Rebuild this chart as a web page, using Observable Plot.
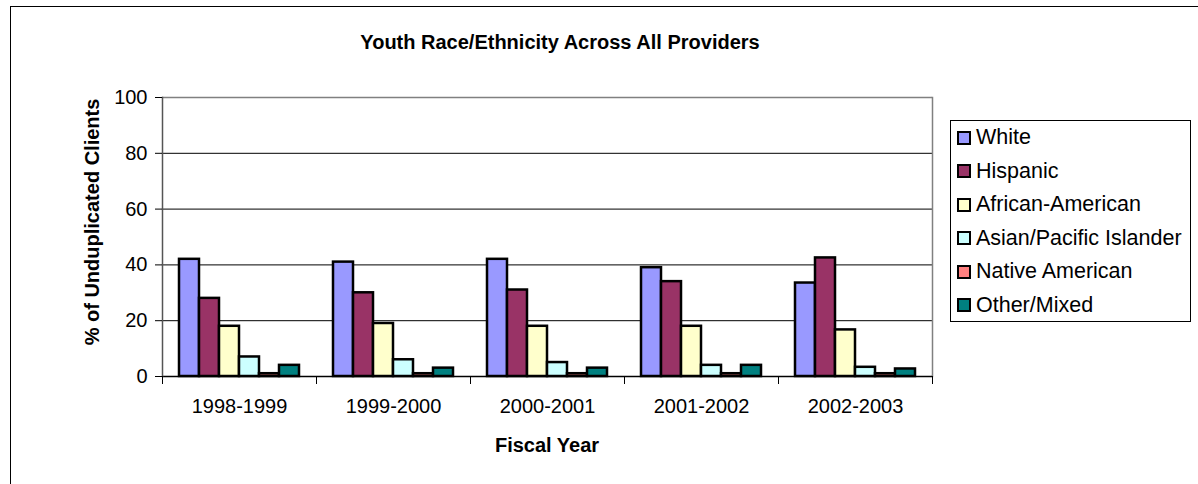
<!DOCTYPE html>
<html><head><meta charset="utf-8">
<script src="https://cdn.jsdelivr.net/npm/d3@7"></script>
<script src="https://cdn.jsdelivr.net/npm/@observablehq/plot@0.6"></script>
<style>
body{margin:0;background:#fff;font-family:"Liberation Sans",Arial,sans-serif;color:#000;}
#wrap{position:relative;width:1198px;height:484px;overflow:hidden;}
#outer{position:absolute;left:10px;top:6px;width:1400px;height:700px;border:1.5px solid #000;}
#chart{position:absolute;left:0;top:0;}
.title{position:absolute;left:0;width:1120px;top:31px;text-align:center;font-weight:bold;font-size:20px;line-height:22px;}
.ytitle{position:absolute;left:92px;top:222px;transform:translate(-50%,-50%) rotate(-90deg);font-weight:bold;font-size:20px;white-space:nowrap;line-height:22px;}
.xtitle{position:absolute;left:547px;top:445px;transform:translate(-50%,-50%);font-weight:bold;font-size:20px;white-space:nowrap;line-height:22px;}
#legend{position:absolute;left:950px;top:120px;width:241px;height:202px;border:1.5px solid #000;background:#fff;box-sizing:border-box;}
.item{height:33.5px;display:flex;align-items:center;font-size:21.5px;white-space:nowrap;}
.sw{width:10px;height:10px;border:2px solid #000;margin-left:6px;margin-right:5px;flex:none;}
</style></head>
<body>
<div id="wrap">
  <div id="outer"></div>
  <div id="chart"></div>
  <div class="title">Youth Race/Ethnicity Across All Providers</div>
  <div class="ytitle">% of Unduplicated Clients</div>
  <div class="xtitle">Fiscal Year</div>
  <div id="legend"></div>
</div>
<script>
const years = ["1998-1999", "1999-2000", "2000-2001", "2001-2002", "2002-2003"];
const groups = ["White", "Hispanic", "African-American", "Asian/Pacific Islander", "Native American", "Other/Mixed"];
const white = [42, 41, 42, 39, 33.5];
const hispanic = [28, 30, 31, 34, 42.5];
const africanAmerican = [18, 19, 18, 18, 16.7];
const asianPacific = [7, 6, 5, 4, 3.3];
const nativeAmerican = [1, 1, 1, 1, 1];
const otherMixed = [4, 3, 3, 4, 2.7];
const colors = ["#9999FF", "#993366", "#FFFFCC", "#CCFFFF", "#FF8080", "#008080"];
const yTicks = [0, 20, 40, 60, 80, 100];

const series = [white, hispanic, africanAmerican, asianPacific, nativeAmerican, otherMixed];
const data = [];
years.forEach((yr, i) => {
  groups.forEach((g, j) => data.push({year: yr, group: g, value: series[j][i]}));
});

const innerH = 484 - 97 - 108;
const chart = Plot.plot({
  width: 1198, height: 484,
  marginLeft: 162, marginRight: 266, marginTop: 97, marginBottom: 108,
  style: {fontFamily: "Liberation Sans, Arial, sans-serif", fontSize: "20px", background: "transparent", color: "#000"},
  fx: {domain: years, padding: 0, label: null},
  x: {domain: groups, paddingInner: 0, paddingOuter: 0.72, axis: null},
  y: {domain: [0, 100], label: null},
  color: {domain: groups, range: colors},
  marks: [
    Plot.ruleY(yTicks.filter(d => d > 0 && d < 100), {stroke: "#000", strokeWidth: 1}),
    Plot.ruleY([100], {stroke: "#808080", strokeWidth: 1.5}),
    Plot.frame({anchor: "right", facetAnchor: "right", stroke: "#808080", strokeWidth: 1.5}),
    Plot.barY(data, {fx: "year", x: "group", y: "value", fill: "group", stroke: "#000", strokeWidth: 2.5}),
    Plot.ruleY([0], {stroke: "#000", strokeWidth: 1.5}),
    Plot.frame({anchor: "left", facetAnchor: "left", stroke: "#555", strokeWidth: 1.5}),
    Plot.frame({anchor: "left", insetTop: innerH, insetBottom: -7, stroke: "#000", strokeWidth: 1}),
    Plot.frame({anchor: "right", facetAnchor: "right", insetTop: innerH, insetBottom: -7, stroke: "#000", strokeWidth: 1}),
    Plot.axisY({ticks: yTicks, tickSize: 7, tickPadding: 8, fontSize: 20, label: null, strokeOpacity: 1}),
    Plot.axisFx({anchor: "bottom", tickSize: 0, tickPadding: 22, fontSize: 20, label: null})
  ]
});
document.getElementById("chart").appendChild(chart);

const legend = document.getElementById("legend");
groups.forEach((g, j) => {
  const it = document.createElement("div");
  it.className = "item";
  const sw = document.createElement("span");
  sw.className = "sw";
  sw.style.background = colors[j];
  const tx = document.createElement("span");
  tx.textContent = g;
  it.appendChild(sw); it.appendChild(tx);
  legend.appendChild(it);
});
</script>
</body></html>
